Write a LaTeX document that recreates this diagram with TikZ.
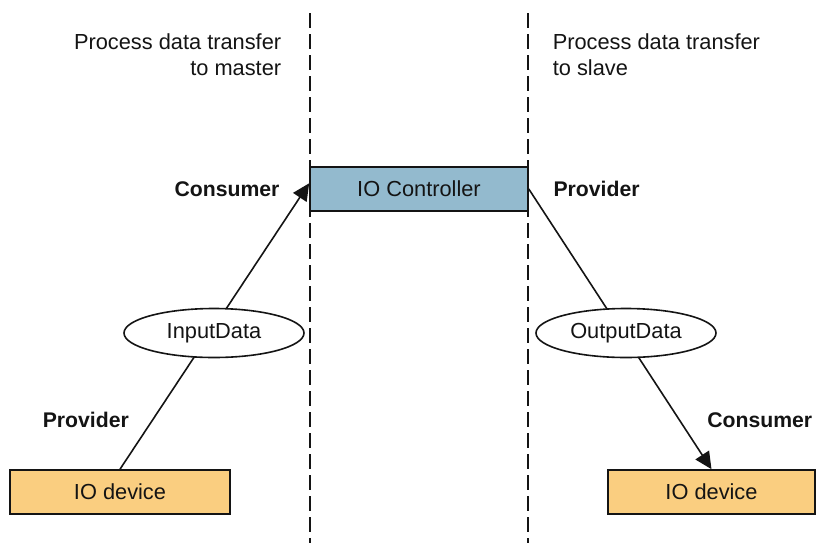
\documentclass[tikz,border=0pt]{standalone}
\usepackage{fontspec}
\setmainfont{Liberation Sans}
\usetikzlibrary{arrows.meta,positioning,shapes.geometric}
\definecolor{ink}{RGB}{20,20,20}
\definecolor{ctrlblue}{RGB}{147,186,206}
\definecolor{devorange}{RGB}{250,206,128}
\tikzset{
  every picture/.style={color=ink, line width=0.8pt, font=\fontsize{10.9}{13}\selectfont},
  box/.style={draw=ink, inner sep=0pt, minimum height=22pt, align=center},
  ctrl/.style={box, fill=ctrlblue, minimum width=109pt},
  dev/.style={box, fill=devorange, minimum width=110pt},
  data/.style={ellipse, draw=ink, fill=white, minimum width=90pt, minimum height=24.5pt, inner sep=0pt},
  flow/.style={-{Triangle[length=8.5pt,width=8pt]}},
  divider/.style={dash pattern=on 7.5pt off 3pt},
  side/.style={font=\fontsize{10.6}{13}\selectfont\bfseries, inner sep=0pt},
  note/.style={inner sep=0pt},
}

\begin{document}
\begin{tikzpicture}[x=0.5pt, y=-0.5pt]
  \useasboundingbox (0,0) rectangle (816,543);
  % boundaries between the two transfer directions
  \coordinate (divL top) at (310,13);
  \coordinate (divL bottom) at (310,543);
  \coordinate (divR top) at (528,13);
  \coordinate (divR bottom) at (528,543);
  \draw[divider] (divL top) -- (divL bottom);
  \draw[divider] (divR top) -- (divR bottom);

  \node[ctrl] (ctrl) at (419,189) {IO Controller};
  \node[dev] (devL) at (120,492) {IO device};
  \node[dev, minimum width=103.5pt] (devR) at (711.5,492) {IO device};

  \node[note, align=right, anchor=east] (toMaster) at (282,55) {Process data transfer\\to master};
  \node[note, align=left, anchor=west] (toSlave) at (552,55) {Process data transfer\\to slave};

  \node[side, left=14.5pt of ctrl] (consL) {Consumer};
  \node[side, right=12pt of ctrl] (provR) {Provider};
  \node[side, anchor=west] (provL) at (42,420) {Provider};
  \node[side, anchor=east] (consR) at (813,420) {Consumer};

  \draw[flow] (devL.north) -- (ctrl.177);
  \draw[flow] (ctrl.east) -- (devR.north);

  \node[data] (inData) at (214,333) {InputData};
  \node[data] (outData) at (626,333) {OutputData};
\end{tikzpicture}
\end{document}
